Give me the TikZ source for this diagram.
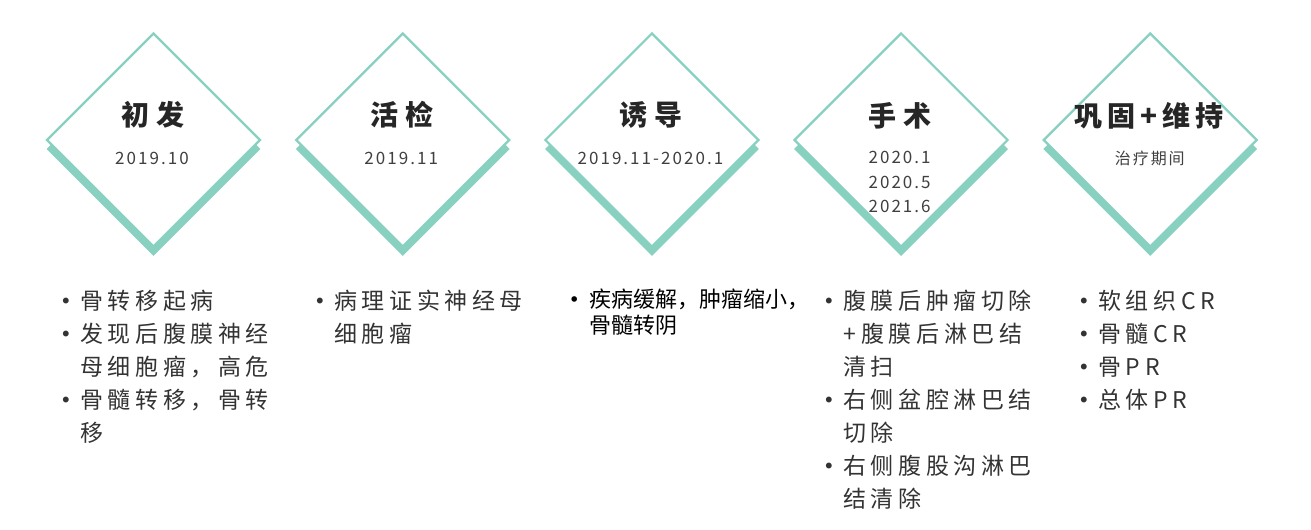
\documentclass[tikz,border=0pt]{standalone}
\usepackage{fontspec}
\setmainfont{Noto Sans CJK SC}
\newfontfamily\titlefont[LetterSpace=25]{Noto Sans CJK SC}
\newfontfamily\datefont[LetterSpace=12]{Noto Sans CJK SC}
\newfontfamily\listfont[LetterSpace=20]{Noto Sans CJK SC}
\newfontfamily\plainfont{Noto Sans CJK SC}
\usetikzlibrary{shapes.geometric}
\definecolor{stagegreen}{HTML}{88D0C0}
\definecolor{titlegray}{HTML}{262626}
\definecolor{dategray}{HTML}{404040}
\definecolor{textgray}{HTML}{333333}
\newcommand{\itemdot}{\makebox[14.25pt][l]{\hspace*{-6.75pt}\raisebox{-1.2pt}{\scalebox{1.2}{\textbullet}}}}
\newcommand{\itemskip}{\hspace*{14.25pt}}
\tikzset{
  stage/.style={diamond, draw=stagegreen, line width=1.7pt, fill=white, minimum width=160.5pt, minimum height=160.5pt, inner sep=0pt},
  stageshadow/.style={diamond, fill=stagegreen, minimum width=160.5pt, minimum height=160.5pt, inner sep=0pt},
  stagetitle/.style={font=\titlefont\bfseries\fontsize{21}{25}\selectfont, text=titlegray, inner sep=0pt},
  stagedate/.style={font=\datefont\fontsize{12.75}{18.4}\selectfont, text=dategray, inner sep=0pt, align=center},
  itemlist/.style={font=\listfont\fontsize{17.25}{24.75}\selectfont, text=textgray, inner sep=0pt, align=left, anchor=north west},
}
\begin{document}
\begin{tikzpicture}[x=0.75pt,y=0.75pt,yscale=-1,xscale=1]
    \useasboundingbox (0,0) rectangle (1311,529);

    %Shape: Diamond [id:chufa]
    \node[stageshadow] (s1) at (153.5,149) {};
    \node[stage] (d1) at (153.5,140) {};
    %Shape: Diamond [id:huojian]
    \node[stageshadow] (s2) at (402.7,149) {};
    \node[stage] (d2) at (402.7,140) {};
    %Shape: Diamond [id:youdao]
    \node[stageshadow] (s3) at (651.9,149) {};
    \node[stage] (d3) at (651.9,140) {};
    %Shape: Diamond [id:shoushu]
    \node[stageshadow] (s4) at (901.1,149) {};
    \node[stage] (d4) at (901.1,140) {};
    %Shape: Diamond [id:gonggu]
    \node[stageshadow] (s5) at (1150.3,149) {};
    \node[stage] (d5) at (1150.3,140) {};

    % Text Node
    \node[stagetitle] (t1) at (152.5,115) {初发};
    \node[stagedate] (r1) at (152,158) {2019.10};
    % Text Node
    \node[stagetitle] (t2) at (401.7,115) {活检};
    \node[stagedate] (r2) at (401.2,158) {2019.11};
    % Text Node
    \node[stagetitle] (t3) at (650.9,115) {诱导};
    \node[stagedate] (r3) at (650.4,158) {2019.11-2020.1};
    % Text Node
    \node[stagetitle] (t4) at (900.1,116) {手术};
    \node[stagedate] (r4) at (899.6,182) {2020.1\\2020.5\\2021.6};
    % Text Node
    \node[stagetitle, font=\titlefont\bfseries\fontsize{21}{25}\selectfont\addfontfeature{LetterSpace=18}] (t5) at (1149.3,116) {巩固+维持};
    \node[stagedate, font=\datefont\fontsize{12}{16}\selectfont] (r5) at (1149.8,158) {治疗期间};

    % Text Node
    \node[itemlist] (l1) at (61,290) {\itemdot 骨转移起病\\\itemdot 发现后腹膜神经\\\itemskip 母细胞瘤，高危\\\itemdot 骨髓转移，骨转\\\itemskip 移};
    % Text Node
    \node[itemlist] (l2) at (315,290) {\itemdot 病理证实神经母\\\itemskip 细胞瘤};
    % Text Node
    \node[itemlist, font=\plainfont\fontsize{16.5}{19.5}\selectfont, text=black] (l3) at (570,289) {\itemdot 疾病缓解，肿瘤缩小，\\\itemskip 骨髓转阴};
    % Text Node
    \node[itemlist] (l4) at (824,290) {\itemdot 腹膜后肿瘤切除\\\itemskip +\hspace{4pt}腹膜后淋巴结\\\itemskip 清扫\\\itemdot 右侧盆腔淋巴结\\\itemskip 切除\\\itemdot 右侧腹股沟淋巴\\\itemskip 结清除};
    % Text Node
    \node[itemlist] (l5) at (1079,290) {\itemdot 软组织CR\\\itemdot 骨髓CR\\\itemdot 骨PR\\\itemdot 总体PR};

\end{tikzpicture}
\end{document}
